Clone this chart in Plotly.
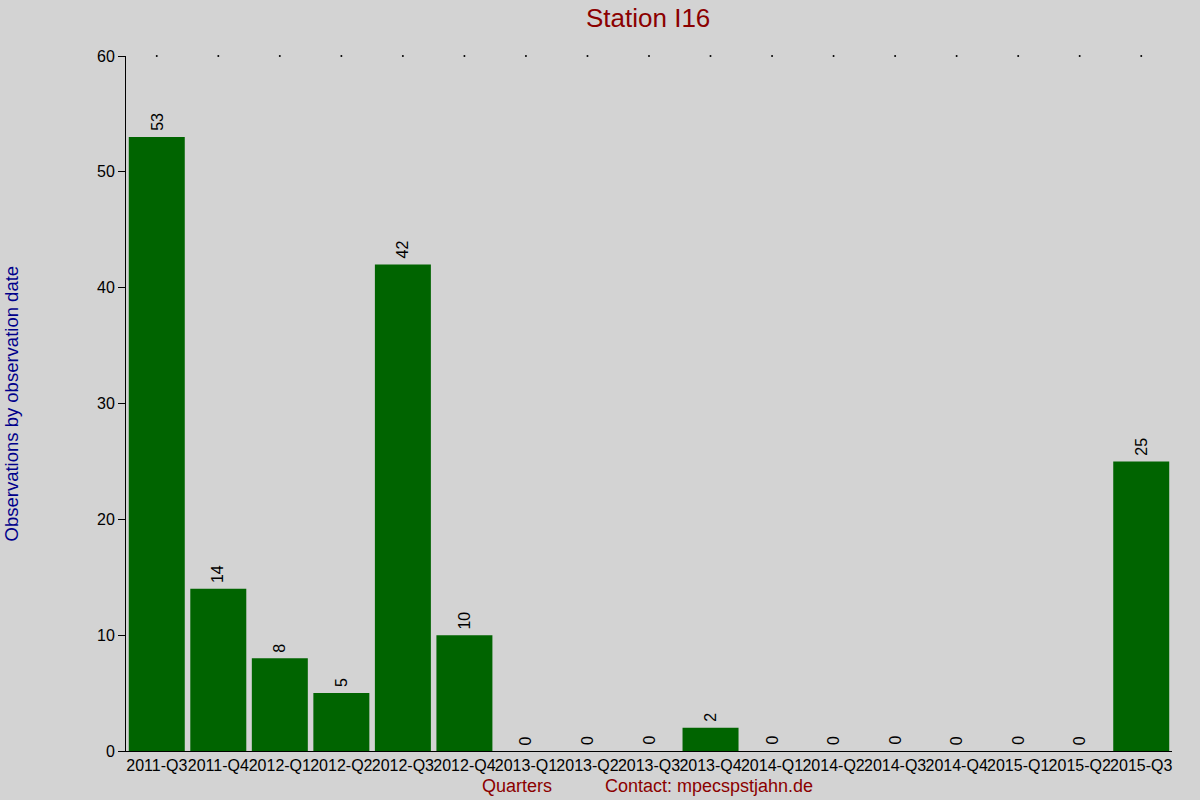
import plotly.graph_objects as go

quarters = [
    "2011-Q3", "2011-Q4", "2012-Q1", "2012-Q2", "2012-Q3", "2012-Q4",
    "2013-Q1", "2013-Q2", "2013-Q3", "2013-Q4", "2014-Q1", "2014-Q2",
    "2014-Q3", "2014-Q4", "2015-Q1", "2015-Q2", "2015-Q3",
]
observations = [53, 14, 8, 5, 42, 10, 0, 0, 0, 2, 0, 0, 0, 0, 0, 0, 25]
y_max = 60

bg = "#d3d3d3"
font = "Liberation Sans, Arial, sans-serif"

fig = go.Figure()
fig.add_trace(
    go.Bar(
        x=quarters,
        y=observations,
        marker_color="#006400",
        marker_line_width=0,
        hoverinfo="x+y",
    )
)
# little dots along the top edge
fig.add_trace(
    go.Scatter(
        x=quarters,
        y=[y_max] * len(quarters),
        mode="markers",
        marker=dict(size=2, color="black"),
        cliponaxis=False,
        hoverinfo="skip",
    )
)

# rotated value labels a little above each bar
for q, v in zip(quarters, observations):
    fig.add_annotation(
        x=q, y=v,
        text=str(v),
        textangle=-90,
        xanchor="center", yanchor="bottom",
        yshift=4,
        showarrow=False,
        font=dict(size=16, color="black"),
    )

fig.add_annotation(
    text="Station I16",
    xref="paper", yref="paper",
    x=0.499, y=1, yshift=38,
    xanchor="center", yanchor="middle",
    showarrow=False,
    font=dict(size=26, color="#8b0000"),
)
fig.add_annotation(
    text="Quarters",
    xref="paper", yref="paper",
    x=0.374, y=0, yshift=-35,
    xanchor="center", yanchor="middle",
    showarrow=False,
    font=dict(size=18, color="#8b0000"),
)
fig.add_annotation(
    text="Contact: mpecspstjahn.de",
    xref="paper", yref="paper",
    x=0.456, y=0, yshift=-35,
    xanchor="left", yanchor="middle",
    showarrow=False,
    font=dict(size=18, color="#8b0000"),
)
fig.add_annotation(
    text="Observations by observation date",
    xref="paper", yref="paper",
    x=0, xshift=-115, y=0.5,
    xanchor="center", yanchor="middle",
    textangle=-90,
    showarrow=False,
    font=dict(size=18.5, color="#00008b"),
)

fig.update_layout(
    width=1200,
    height=800,
    paper_bgcolor=bg,
    plot_bgcolor=bg,
    showlegend=False,
    bargap=0.09,
    font=dict(family=font, size=16, color="black"),
    margin=dict(l=126, r=28, t=56, b=49),
)
fig.update_xaxes(
    range=[-0.5, len(quarters) - 0.5],
    automargin=False,
    showline=True,
    linecolor="black",
    linewidth=1,
    ticks="",
    tickangle=0,
    showgrid=False,
)
fig.update_yaxes(
    range=[0, y_max],
    dtick=10,
    automargin=False,
    showline=True,
    linecolor="black",
    linewidth=1,
    ticks="outside",
    ticklen=7,
    tickcolor="black",
    showgrid=False,
    zeroline=False,
)

# drop the browser's default body margin so the figure fills the window
fig.write_html(
    "out.html",
    config={"displayModeBar": False},
    post_script="document.body.style.margin = '0';",
)
